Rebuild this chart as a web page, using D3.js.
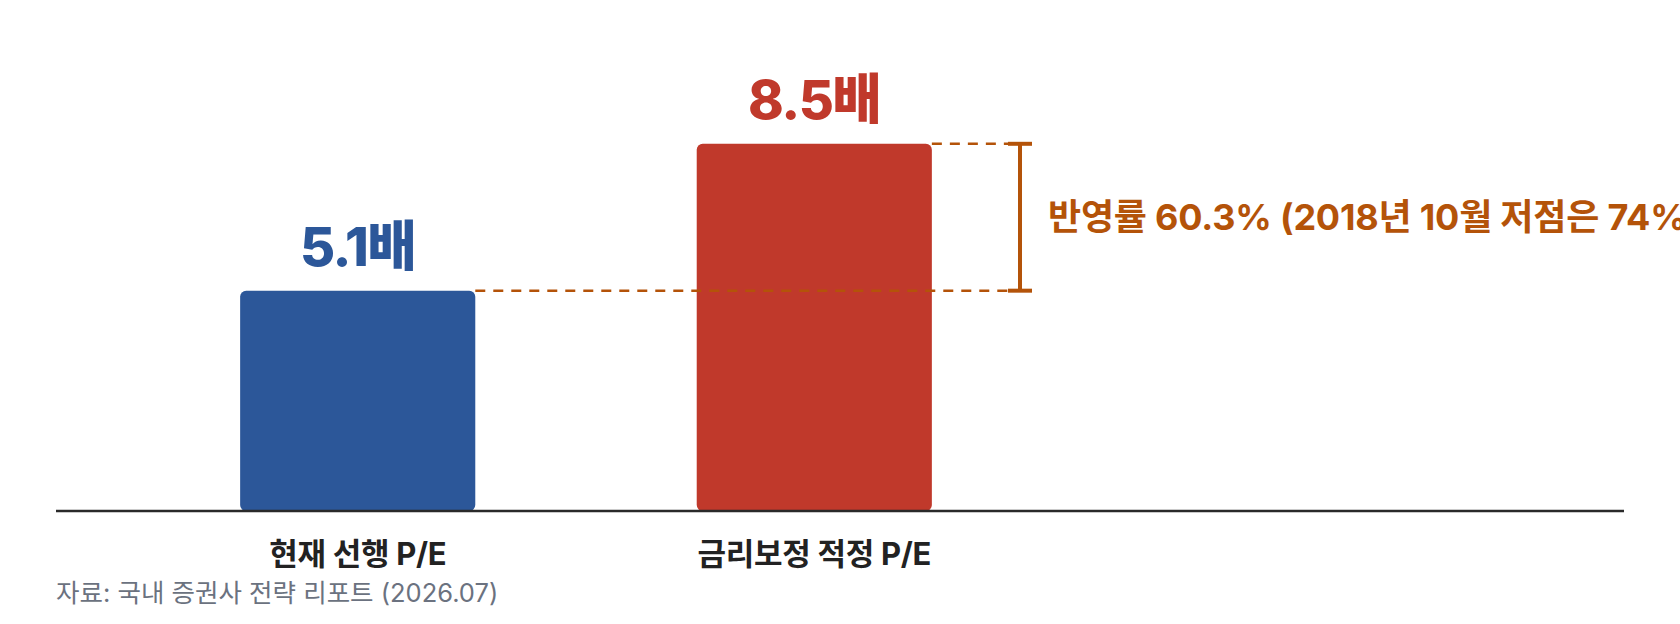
<!DOCTYPE html>
<html>
<head>
<meta charset="utf-8">
<script src="https://cdn.jsdelivr.net/npm/d3@7"></script>
<style>
  body { margin: 0; background: #fff; }
  svg { display: block; font-family: Inter, "Noto Sans CJK KR", "Noto Sans", sans-serif; }
</style>
</head>
<body>
<div id="chart"></div>
<script>
var categories = ["현재 선행 P/E", "금리보정 적정 P/E"];
var values = [5.1, 8.5];
var valueLabels = ["5.1배", "8.5배"];
var barColors = ["#2c5799", "#c0392b"];
var note = "반영률 60.3% (2018년 10월 저점은 74%)";
var source = "자료: 국내 증권사 전략 리포트 (2026.07)";

var width = 1680, height = 624;
var base = 511;

var svg = d3.select("#chart").append("svg")
  .attr("width", width)
  .attr("height", height);

var x = d3.scaleBand()
  .domain(categories)
  .range([126, 1046])
  .paddingInner(0.485)
  .paddingOuter(0.25);

var y = d3.scaleLinear()
  .domain([0, 10])
  .range([base, 79]);

// bars
svg.selectAll(".bar")
  .data(values)
  .enter().append("rect")
  .attr("class", "bar")
  .attr("x", function(d, i) { return x(categories[i]); })
  .attr("y", function(d) { return y(d); })
  .attr("width", x.bandwidth())
  .attr("height", function(d) { return y(0) - y(d); })
  .attr("rx", 6)
  .attr("fill", function(d, i) { return barColors[i]; });

// value labels
svg.selectAll(".val")
  .data(values)
  .enter().append("text")
  .attr("class", "val")
  .attr("x", function(d, i) { return x(categories[i]) + x.bandwidth() / 2; })
  .attr("y", function(d) { return y(d) - 25; })
  .attr("text-anchor", "middle")
  .attr("font-size", 54)
  .attr("font-weight", 800)
  .attr("letter-spacing", -1.5)
  .attr("fill", function(d, i) { return barColors[i]; })
  .text(function(d, i) { return valueLabels[i]; });

// baseline axis
svg.append("line")
  .attr("x1", 56).attr("x2", 1624)
  .attr("y1", y(0)).attr("y2", y(0))
  .attr("stroke", "#2a2a2a")
  .attr("stroke-width", 2.5);

// category labels
svg.selectAll(".cat")
  .data(categories)
  .enter().append("text")
  .attr("class", "cat")
  .attr("x", function(d) { return x(d) + x.bandwidth() / 2; })
  .attr("y", 565)
  .attr("text-anchor", "middle")
  .attr("font-size", 31)
  .attr("font-weight", 700)
  .attr("letter-spacing", -0.3)
  .attr("fill", "#222")
  .text(function(d) { return d; });

// gap annotation
var accent = "#b45309";
var bx = 1020;
var xRight = x(categories[1]) + x.bandwidth();
var xLeft = x(categories[0]) + x.bandwidth();

svg.append("line")
  .attr("x1", xLeft).attr("x2", bx - 12)
  .attr("y1", y(values[0])).attr("y2", y(values[0]))
  .attr("stroke", accent).attr("stroke-width", 2.5)
  .attr("stroke-dasharray", "10,8");

svg.append("line")
  .attr("x1", xRight).attr("x2", bx - 12)
  .attr("y1", y(values[1])).attr("y2", y(values[1]))
  .attr("stroke", accent).attr("stroke-width", 2.5)
  .attr("stroke-dasharray", "10,8");

var br = svg.append("g")
  .attr("stroke", accent)
  .attr("stroke-width", 4);
br.append("line")
  .attr("x1", bx).attr("x2", bx)
  .attr("y1", y(values[1])).attr("y2", y(values[0]));
br.append("line")
  .attr("x1", bx - 12).attr("x2", bx + 12)
  .attr("y1", y(values[1])).attr("y2", y(values[1]));
br.append("line")
  .attr("x1", bx - 12).attr("x2", bx + 12)
  .attr("y1", y(values[0])).attr("y2", y(values[0]));

svg.append("text")
  .attr("x", 1048)
  .attr("y", (y(values[0]) + y(values[1])) / 2)
  .attr("dominant-baseline", "central")
  .attr("font-size", 36)
  .attr("font-weight", 700)
  .attr("letter-spacing", -0.2)
  .attr("fill", accent)
  .text(note);

// source
svg.append("text")
  .attr("x", 56)
  .attr("y", 602)
  .attr("font-size", 25.5)
  .attr("fill", "#6b7280")
  .text(source);
</script>
</body>
</html>
